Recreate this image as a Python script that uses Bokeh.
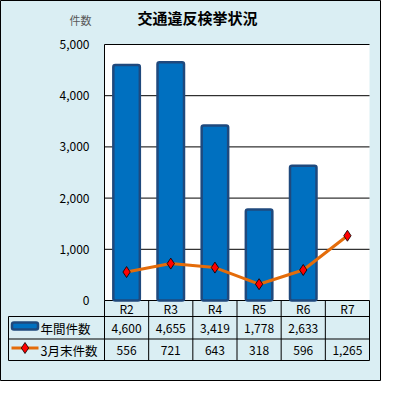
from bokeh.plotting import figure
from bokeh.models import Range1d
from bokeh.core.properties import value
from bokeh.embed import file_html
from bokeh.resources import INLINE
import numpy as np

# ---- data ----
years = ["R2", "R3", "R4", "R5", "R6", "R7"]
annual = [4600, 4655, 3419, 1778, 2633, None]
march_end = [556, 721, 643, 318, 596, 1265]
y_ticks = [0, 1000, 2000, 3000, 4000, 5000]
series_names = ["年間件数", "3月末件数"]
title_text = "交通違反検挙状況"
unit_text = "件数"

# ---- layout helpers (figure pixel -> data) ----
W = H = 381
PX_X = 44.1667          # pixels per category
X0 = 104                # pixel of category axis start
PX_Y = 0.0512           # pixels per count
Y0 = 300                # pixel of value 0

def xd(px):
    return (px - X0) / PX_X

def yd(py):
    return (Y0 - py) / PX_Y

FONT = value("Noto Sans CJK JP")
BG = "#DAEEF3"
BAR_FILL = "#0070C0"
BAR_LINE = "#1F497D"
ORANGE = "#E46C0A"

p = figure(width=W, height=H, output_backend="svg", toolbar_location=None,
           x_axis_location=None, y_axis_location=None,
           x_range=Range1d(xd(0), xd(W)), y_range=Range1d(yd(H), yd(0)),
           min_border=0)
p.background_fill_color = BG
p.border_fill_color = BG
p.outline_line_color = "black"
p.outline_line_width = 1
p.grid.visible = False

n = len(years)
xc = np.arange(n) + 0.5

# plot area
p.quad(left=[0], right=[n], bottom=[y_ticks[0]], top=[y_ticks[-1]],
       fill_color="white", line_color=None)
# gridlines
p.segment(x0=[0] * len(y_ticks), x1=[n] * len(y_ticks), y0=y_ticks, y1=y_ticks,
          line_color="black", line_width=1)
p.segment(x0=[0], x1=[0], y0=[y_ticks[0]], y1=[y_ticks[-1]], line_color="black", line_width=1)

# bars
bx = [x for x, v in zip(xc, annual) if v is not None]
bt = [v for v in annual if v is not None]
p.vbar(x=bx, top=bt, bottom=0, width=0.6, fill_color=BAR_FILL,
       line_color=BAR_LINE, line_width=2.5, border_radius=2)

# line
p.line(x=xc, y=march_end, line_color=ORANGE, line_width=3)
p.scatter(x=xc, y=march_end, marker="diamond", size=11, fill_color="red",
          line_color="black", line_width=0.8)

# y tick labels
p.text(x=[xd(89)] * len(y_ticks), y=y_ticks, text=[f"{t:,}" for t in y_ticks],
       text_align="right", text_baseline="middle", text_font=FONT,
       text_font_size="12px", text_color="black")

# unit & title
p.text(x=[xd(80)], y=[yd(19)], text=[unit_text], text_align="center",
       text_baseline="middle", text_font=FONT, text_font_size="11px", text_color="#595959")
p.text(x=[xd(197)], y=[yd(17)], text=[title_text], text_align="center",
       text_baseline="middle", text_font=FONT, text_font_size="15px",
       text_font_style="bold", text_color="black")

# table
row_lines = [yd(316), yd(338.5), yd(360)]
p.segment(x0=[xd(8)] * 3, x1=[n] * 3, y0=row_lines, y1=row_lines, line_color="black", line_width=1)
p.segment(x0=list(range(n + 1)), x1=list(range(n + 1)), y0=[0] * (n + 1),
          y1=[row_lines[-1]] * (n + 1), line_color="black", line_width=1)
p.segment(x0=[xd(8)], x1=[xd(8)], y0=[row_lines[0]], y1=[row_lines[-1]], line_color="black", line_width=1)

p.text(x=xc, y=[yd(308)] * n, text=years, text_align="center", text_baseline="middle",
       text_font=FONT, text_font_size="12px", text_color="black")
p.text(x=xc, y=[yd(327.5)] * n, text=[f"{v:,}" if v is not None else "" for v in annual],
       text_align="center", text_baseline="middle", text_font=FONT,
       text_font_size="12px", text_color="black")
p.text(x=xc, y=[yd(349.5)] * n, text=[f"{v:,}" for v in march_end],
       text_align="center", text_baseline="middle", text_font=FONT,
       text_font_size="12px", text_color="black")

# legend column
p.quad(left=[xd(11.5)], right=[xd(37.5)], bottom=[yd(329)], top=[yd(322)],
       fill_color=BAR_FILL, line_color=BAR_LINE, line_width=2.5, border_radius=2)
p.segment(x0=[xd(11)], x1=[xd(38)], y0=[yd(347.5)], y1=[yd(347.5)], line_color=ORANGE, line_width=3)
p.scatter(x=[xd(24.5)], y=[yd(347.5)], marker="diamond", size=11, fill_color="red",
          line_color="black", line_width=0.8)
p.text(x=[xd(40)] * 2, y=[yd(327.5), yd(349.5)], text=series_names, text_align="left",
       text_baseline="middle", text_font=FONT, text_font_size="12.5px", text_color="black")

open("out.html", "w").write(file_html(p, INLINE))
